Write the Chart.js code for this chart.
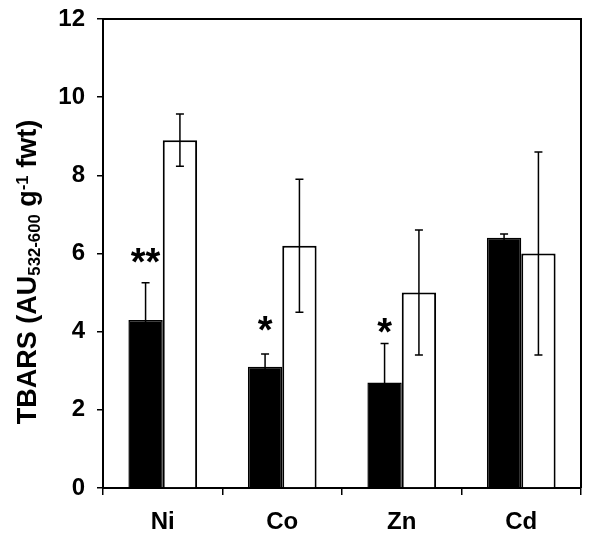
<!DOCTYPE html>
<html>
<head>
<meta charset="utf-8">
<script src="https://cdn.jsdelivr.net/npm/chart.js@4/dist/chart.umd.min.js"></script>
<style>
    html, body { margin: 0; padding: 0; background: #fff; }
    #wrap { width: 600px; height: 551px; }
</style>
</head>
<body>
<div id="wrap"><canvas id="chart" width="600" height="551"></canvas></div>
<script>
// data
const metals = ['Ni', 'Co', 'Zn', 'Cd'];
const blackValues = [4.3, 3.1, 2.7, 6.4];
const blackErrors = [0.95, 0.33, 1.0, 0.1];
const whiteValues = [8.9, 6.2, 5.0, 6.0];
const whiteErrors = [0.67, 1.7, 1.6, 2.6];
const sigMarks = ['**', '*', '*', ''];
const sigLevels = [6.0, 4.25, 4.2, null];
const yTicks = [0, 2, 4, 6, 8, 10, 12];

const FONT = 'Liberation Sans, Arial, sans-serif';

// error bars, asterisks, box and the axis title with sub/superscript
const extras = {
    id: 'extras',
    afterDatasetsDraw(chart) {
        const ctx = chart.ctx;
        const y = chart.scales.y;
        const area = chart.chartArea;
        const errs = [blackErrors, whiteErrors];

        ctx.save();
        ctx.strokeStyle = '#000';
        ctx.lineWidth = 1.5;
        chart.data.datasets.forEach((ds, di) => {
            chart.getDatasetMeta(di).data.forEach((bar, i) => {
                const v = ds.data[i];
                const e = errs[di][i];
                const top = y.getPixelForValue(v + e);
                const bot = y.getPixelForValue(v - e);
                ctx.beginPath();
                ctx.moveTo(bar.x, top);
                ctx.lineTo(bar.x, bot);
                ctx.moveTo(bar.x - 4, top);
                ctx.lineTo(bar.x + 4, top);
                ctx.moveTo(bar.x - 4, bot);
                ctx.lineTo(bar.x + 4, bot);
                ctx.stroke();
            });
        });

        // significance stars over the black bars
        ctx.fillStyle = '#000';
        ctx.font = 'bold 38px ' + FONT;
        ctx.textAlign = 'center';
        ctx.textBaseline = 'alphabetic';
        chart.getDatasetMeta(0).data.forEach((bar, i) => {
            if (!sigMarks[i]) return;
            const cy = y.getPixelForValue(sigLevels[i]);
            ctx.fillText(sigMarks[i], bar.x, cy + 21);
        });

        // top and right frame
        ctx.lineWidth = 2;
        ctx.beginPath();
        ctx.moveTo(area.left, area.top);
        ctx.lineTo(area.right, area.top);
        ctx.lineTo(area.right, area.bottom);
        ctx.stroke();

        // y title
        const f = 27;
        const parts = [
            { t: 'TBARS (AU', s: 1, dy: 0 },
            { t: '532-600', s: 0.62, dy: 0.16 },
            { t: ' g', s: 1, dy: 0 },
            { t: '-1', s: 0.62, dy: -0.3 },
            { t: ' fwt)', s: 1, dy: 0 }
        ];
        let total = 0;
        parts.forEach(p => {
            ctx.font = 'bold ' + (f * p.s) + 'px ' + FONT;
            p.w = ctx.measureText(p.t).width;
            total += p.w;
        });
        ctx.translate(36, 272);
        ctx.rotate(-Math.PI / 2);
        ctx.textAlign = 'left';
        let x = -total / 2;
        parts.forEach(p => {
            ctx.font = 'bold ' + (f * p.s) + 'px ' + FONT;
            ctx.fillText(p.t, x, p.dy * f);
            x += p.w;
        });
        ctx.restore();
    }
};

new Chart(document.getElementById('chart'), {
    type: 'bar',
    data: {
        labels: metals,
        datasets: [
            {
                data: blackValues,
                backgroundColor: '#000',
                borderColor: '#000',
                borderWidth: 1.5,
                categoryPercentage: 0.575,
                barPercentage: 1.0
            },
            {
                data: whiteValues,
                backgroundColor: '#fff',
                borderColor: '#000',
                borderWidth: 2,
                categoryPercentage: 0.575,
                barPercentage: 1.0
            }
        ]
    },
    options: {
        responsive: false,
        animation: false,
        layout: { padding: { top: 19, right: 19, left: 0, bottom: 0 } },
        plugins: {
            legend: { display: false },
            tooltip: { enabled: false }
        },
        scales: {
            x: {
                grid: {
                    display: true,
                    offset: true,
                    drawOnChartArea: false,
                    drawTicks: true,
                    tickLength: 7,
                    color: '#000',
                    lineWidth: 1.5
                },
                border: { display: true, color: '#000', width: 2 },
                ticks: {
                    color: '#000',
                    padding: 13,
                    font: { family: FONT, size: 24, weight: 'bold' }
                },
                afterFit(scale) {
                    scale.height = 63;
                    scale.paddingLeft = 0;
                    scale.paddingRight = 0;
                }
            },
            y: {
                min: 0,
                max: 12,
                afterBuildTicks(scale) { scale.ticks = yTicks.map(v => ({ value: v })); },
                grid: {
                    display: true,
                    drawOnChartArea: false,
                    drawTicks: true,
                    tickLength: 6,
                    color: '#000',
                    lineWidth: 1.5
                },
                border: { display: true, color: '#000', width: 2 },
                ticks: {
                    color: '#000',
                    padding: 12,
                    font: { family: FONT, size: 24, weight: 'bold' }
                },
                afterFit(scale) {
                    scale.width = 103;
                    scale.paddingTop = 0;
                    scale.paddingBottom = 0;
                }
            }
        }
    },
    plugins: [extras]
});
</script>
</body>
</html>
